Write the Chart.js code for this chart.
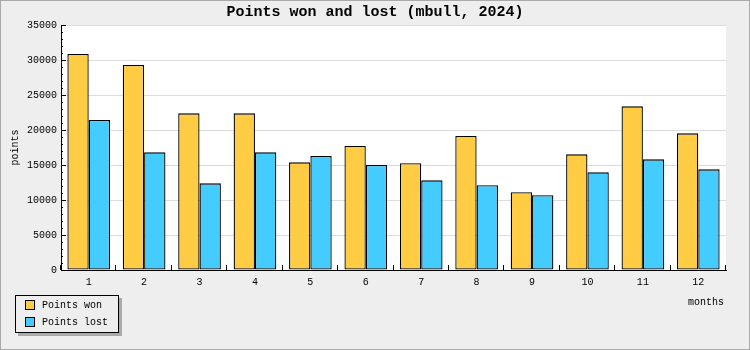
<!DOCTYPE html>
<html>
<head>
<meta charset="utf-8">
<script src="https://cdn.jsdelivr.net/npm/chart.js@4"></script>
<style>
  html, body { margin: 0; padding: 0; background: #eeeeee; }
  #wrap { width: 750px; height: 350px; }
</style>
</head>
<body>
<div id="wrap"><canvas id="myChart" width="750" height="350"></canvas></div>
<script>
// data
let months = ['1', '2', '3', '4', '5', '6', '7', '8', '9', '10', '11', '12'];
let pointsWon = [30850, 29280, 22380, 22380, 15380, 17710, 15240, 19140, 11100, 16520, 23380, 19520];
let pointsLost = [21430, 16810, 12380, 16810, 16290, 15000, 12810, 12100, 10670, 13950, 15810, 14380];
let yMax = 35000;
let yStep = 5000;
let yMinorStep = 1000;
let chartTitle = 'Points won and lost (mbull, 2024)';

let monoFont = "'Liberation Mono', 'DejaVu Sans Mono', monospace";

// draws frame, plot background, title, inner ticks, axis titles and the legend box
let decorPlugin = {
    id: 'decor',
    beforeDraw: (chart) => {
        let c = chart.ctx;
        let a = chart.chartArea;
        c.save();
        c.fillStyle = '#eeeeee';
        c.fillRect(0, 0, chart.width, chart.height);
        c.strokeStyle = '#aaaaaa';
        c.lineWidth = 1;
        c.strokeRect(0.5, 0.5, chart.width - 1, chart.height - 1);
        c.fillStyle = '#ffffff';
        c.fillRect(a.left, a.top, a.right - a.left, a.bottom - a.top);
        c.fillStyle = '#000000';
        c.font = 'bold 15px ' + monoFont;
        c.textAlign = 'center';
        c.textBaseline = 'middle';
        c.fillText(chartTitle, chart.width / 2, 12);
        c.restore();
    },
    afterDraw: (chart) => {
        let c = chart.ctx;
        let a = chart.chartArea;
        let xs = chart.scales.x;
        let ys = chart.scales.y;
        c.save();
        c.strokeStyle = '#000000';
        c.lineWidth = 1;
        c.beginPath();
        // y ticks, pointing into the plot
        for (let v = 0; v <= yMax; v += yMinorStep) {
            let y = Math.round(ys.getPixelForValue(v)) + 0.5;
            let len = (v % yStep === 0) ? 5 : 2;
            c.moveTo(a.left, y);
            c.lineTo(a.left + len, y);
        }
        // x ticks at category boundaries
        for (let i = 0; i <= months.length; i++) {
            let x;
            if (i === 0) x = a.left;
            else if (i === months.length) x = a.right;
            else x = (xs.getPixelForValue(i - 1) + xs.getPixelForValue(i)) / 2;
            x = Math.round(x) - 0.5;
            c.moveTo(x, a.bottom);
            c.lineTo(x, a.bottom - 5);
        }
        c.stroke();

        // axis titles
        c.fillStyle = '#000000';
        c.font = '10px ' + monoFont;
        c.textAlign = 'right';
        c.textBaseline = 'middle';
        c.fillText('months', 724, 302);
        c.save();
        c.translate(15, (a.top + a.bottom) / 2);
        c.rotate(-Math.PI / 2);
        c.textAlign = 'center';
        c.fillText('points', 0, 0);
        c.restore();

        // legend
        let lx = 15, ly = 295, lw = 103, lh = 37;
        c.fillStyle = '#aaaaaa';
        c.fillRect(lx + 3, ly + 3, lw + 1, lh + 1);
        c.fillStyle = '#eeeeee';
        c.fillRect(lx, ly, lw, lh);
        c.strokeStyle = '#000000';
        c.strokeRect(lx + 0.5, ly + 0.5, lw, lh);
        chart.data.datasets.forEach((ds, i) => {
            let sy = ly + 5 + i * 17;
            c.fillStyle = ds.backgroundColor;
            c.fillRect(lx + 10, sy, 10, 10);
            c.strokeRect(lx + 10.5, sy + 0.5, 9, 9);
            c.fillStyle = '#000000';
            c.textAlign = 'left';
            c.fillText(ds.label, lx + 27, sy + 5.5);
        });
        c.restore();
    }
};

let ctx = document.getElementById('myChart').getContext('2d');
let myChart = new Chart(ctx, {
    type: 'bar',
    data: {
        labels: months,
        datasets: [{
            label: 'Points won',
            data: pointsWon,
            backgroundColor: '#ffcc44',
            borderColor: '#000000',
            borderWidth: 1.3,
            borderSkipped: false
        }, {
            label: 'Points lost',
            data: pointsLost,
            backgroundColor: '#44ccff',
            borderColor: '#000000',
            borderWidth: 1.3,
            borderSkipped: false
        }]
    },
    options: {
        responsive: false,
        animation: false,
        layout: { padding: { left: 0, right: 24, top: 25, bottom: 0 } },
        categoryPercentage: 0.77,
        barPercentage: 1.0,
        plugins: {
            legend: { display: false },
            tooltip: { enabled: false },
            title: { display: false }
        },
        scales: {
            x: {
                grid: { color: 'transparent', drawTicks: false },
                border: { color: '#000000', width: 1 },
                ticks: { color: '#000000', padding: 6, font: { family: monoFont, size: 10 }, maxRotation: 0 },
                afterFit: (scale) => { scale.height = 80; }
            },
            y: {
                min: 0,
                max: yMax,
                grid: { color: '#dddddd', drawTicks: false },
                border: { color: '#000000', width: 1 },
                ticks: {
                    stepSize: yStep,
                    color: '#000000',
                    padding: 4,
                    font: { family: monoFont, size: 10 },
                    callback: (value) => String(value)
                },
                afterFit: (scale) => { scale.width = 61; }
            }
        }
    },
    plugins: [decorPlugin]
});
</script>
</body>
</html>
